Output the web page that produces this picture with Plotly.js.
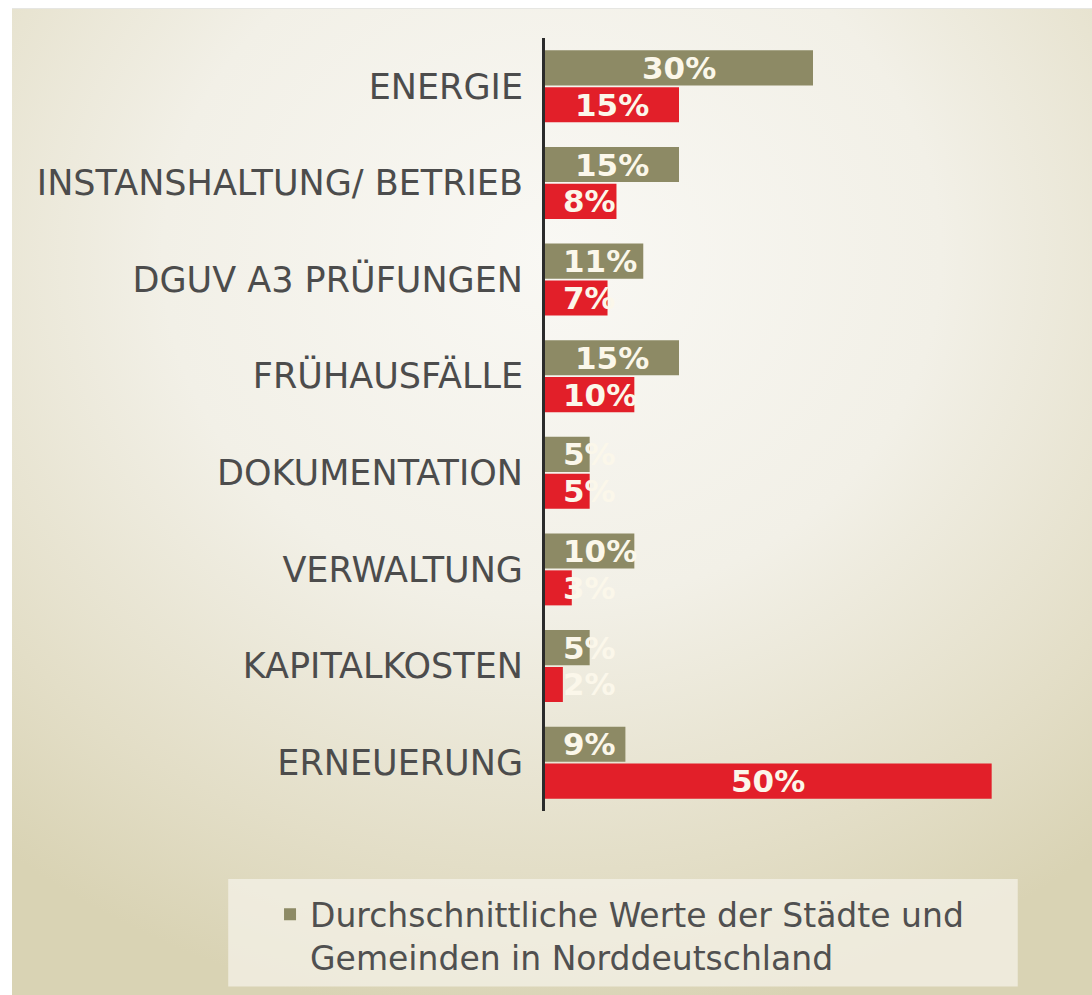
<!DOCTYPE html>
<html><head><meta charset="utf-8">
<script src="https://cdn.plot.ly/plotly-3.0.1.min.js"></script>
<style>
html,body{margin:0;padding:0;background:#fff;}
#wrap{position:relative;width:1092px;height:995px;overflow:hidden;background:#fff;}
#panel{position:absolute;left:12px;top:8px;right:0;bottom:0;border-top:1px solid #e6e6e2;
  background:radial-gradient(ellipse 80% 78% at 50% 25%, #f9f8f4 0%, #f2f0e7 45%, #e3dec7 80%, #d9d3b4 100%);}
#chart{position:absolute;left:0;top:0;width:1092px;height:995px;}
</style></head>
<body><div id="wrap"><div id="panel"></div><div id="chart"></div></div>
<script>
const categories = ['ENERGIE','INSTANSHALTUNG/ BETRIEB','DGUV A3 PRÜFUNGEN','FRÜHAUSFÄLLE','DOKUMENTATION','VERWALTUNG','KAPITALKOSTEN','ERNEUERUNG'];
const durchschnitt = [30,15,11,15,5,10,5,9];
const vergleich = [15,8,7,10,5,3,2,50];
const seriesName = 'Durchschnittliche Werte der Städte und<br>Gemeinden in Norddeutschland';

const OLIVE = '#8d8a65', RED = '#e21f29';
const FONT = 'DejaVu Sans, Verdana, sans-serif';

const traces = [
  {type:'bar', orientation:'h', y:categories, x:durchschnitt, name:seriesName,
   marker:{color:OLIVE}, hoverinfo:'skip', showlegend:true},
  {type:'bar', orientation:'h', y:categories, x:vergleich, name:'Vergleich',
   marker:{color:RED}, hoverinfo:'skip', showlegend:false}
];

const OFFSET = 0.19;
const annotations = [];
function addLabels(vals, off){
  vals.forEach((v,i)=>{
    const big = v >= 12;
    annotations.push({xref:'x', yref:'y', x: big ? v/2 : 1.8, y: i + off,
      xanchor: big ? 'center' : 'left', yanchor:'middle', showarrow:false,
      text: v + '%', font:{family:FONT, size:31, color:'#fbf7ea', weight:'bold'}});
  });
}
addLabels(durchschnitt, -OFFSET);
addLabels(vergleich, OFFSET);

const layout = {
  width:1092, height:995,
  paper_bgcolor:'rgba(0,0,0,0)', plot_bgcolor:'rgba(0,0,0,0)',
  margin:{l:545, r:11, t:38, b:183},
  barmode:'group', bargap:0.237, bargroupgap:0.05,
  font:{family:FONT},
  xaxis:{range:[0,60], visible:false, showgrid:false, zeroline:false, fixedrange:true},
  yaxis:{type:'category', autorange:'reversed', showline:true, linecolor:'#2b2b2b', linewidth:3,
    ticks:'', ticklabelstandoff:12, showgrid:false, zeroline:false,
    tickfont:{family:FONT, size:35, color:'#4c4c4c'}},
  showlegend:true,
  legend:{x:-0.513, y:-0.096, xanchor:'left', yanchor:'top', bgcolor:'rgba(0,0,0,0)',
    valign:'top', font:{family:FONT, size:33, color:'#505050'}},
  shapes:[{type:'rect', xref:'paper', yref:'paper', x0:-0.591, x1:0.882, y0:-0.227, y1:-0.088,
    fillcolor:'rgba(244,242,232,0.75)', line:{width:0}, layer:'below'}],
  annotations: annotations
};

Plotly.newPlot('chart', traces, layout, {displayModeBar:false, staticPlot:true});
</script>
</body></html>
